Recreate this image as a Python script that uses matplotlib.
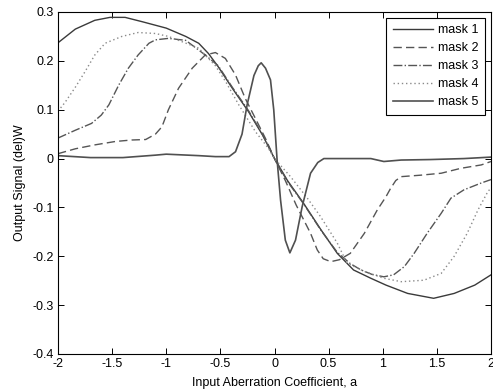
import matplotlib
matplotlib.use("Agg")
import matplotlib.pyplot as plt

# values
m1_x = [-2.0, -1.84, -1.66, -1.52, -1.38, -1.22, -1.0, -0.82, -0.70, -0.61, -0.52, -0.39, -0.24, -0.11,
        0.0, 0.12, 0.27, 0.43, 0.58, 0.73, 0.89, 1.03, 1.23, 1.47, 1.66, 1.85, 2.0]
m1_y = [0.237, 0.265, 0.283, 0.289, 0.289, 0.28, 0.267, 0.25, 0.236, 0.215, 0.188, 0.144, 0.096, 0.048,
        0.0, -0.045, -0.092, -0.146, -0.194, -0.228, -0.245, -0.259, -0.276, -0.286, -0.276, -0.259, -0.238]

m2_x = [-2.0, -1.84, -1.66, -1.47, -1.32, -1.19, -1.10, -1.04, -0.98, -0.886, -0.76, -0.64, -0.546, -0.454,
        -0.36, -0.27, -0.176, -0.083, 0.0, 0.1, 0.2, 0.333, 0.395, 0.45, 0.52, 0.60, 0.70, 0.83, 0.95,
        1.03, 1.07, 1.12, 1.17, 1.35, 1.54, 1.72, 1.91, 2.0]
m2_y = [0.01, 0.02, 0.028, 0.035, 0.038, 0.039, 0.05, 0.065, 0.1, 0.144, 0.185, 0.212, 0.217, 0.205,
        0.171, 0.123, 0.082, 0.041, 0.0, -0.045, -0.095, -0.153, -0.187, -0.205, -0.211, -0.207, -0.194,
        -0.153, -0.105, -0.078, -0.062, -0.045, -0.037, -0.034, -0.03, -0.02, -0.013, -0.006]

m3_x = [-2.0, -1.84, -1.69, -1.60, -1.53, -1.44, -1.35, -1.26, -1.16, -1.10, -0.98, -0.82, -0.64, -0.52,
        -0.39, -0.24, -0.11, 0.0, 0.12, 0.27, 0.43, 0.58, 0.70, 0.80, 0.90, 1.01, 1.10, 1.20, 1.29, 1.41,
        1.54, 1.63, 1.75, 1.91, 2.0]
m3_y = [0.042, 0.058, 0.072, 0.089, 0.11, 0.15, 0.185, 0.212, 0.236, 0.243, 0.246, 0.242, 0.212, 0.19,
        0.146, 0.098, 0.049, 0.0, -0.047, -0.093, -0.147, -0.192, -0.215, -0.228, -0.237, -0.242, -0.238,
        -0.221, -0.194, -0.153, -0.112, -0.081, -0.064, -0.05, -0.043]

m4_x = [-2.0, -1.935, -1.84, -1.75, -1.66, -1.565, -1.41, -1.26, -1.10, -0.98, -0.70, -0.546, -0.45, -0.33,
        -0.176, -0.056, 0.0, 0.148, 0.30, 0.426, 0.58, 0.67, 0.83, 1.01, 1.17, 1.38, 1.54, 1.66, 1.78, 1.88,
        1.97, 2.0]
m4_y = [0.097, 0.115, 0.146, 0.178, 0.212, 0.236, 0.25, 0.258, 0.256, 0.25, 0.226, 0.19, 0.157, 0.11,
        0.055, 0.021, 0.0, -0.037, -0.08, -0.119, -0.173, -0.214, -0.231, -0.245, -0.252, -0.249, -0.235,
        -0.2, -0.153, -0.105, -0.068, -0.06]

m5_x = [-2.0, -1.7, -1.4, -1.1, -1.0, -0.7, -0.546, -0.42, -0.36, -0.30, -0.253, -0.19, -0.15, -0.123,
        -0.083, -0.037, -0.007, 0.024, 0.056, 0.10, 0.142, 0.194, 0.256, 0.333, 0.40, 0.456, 0.58, 0.89,
        1.01, 1.17, 1.44, 1.75, 2.0]
m5_y = [0.006, 0.002, 0.002, 0.007, 0.009, 0.006, 0.004, 0.004, 0.014, 0.05, 0.11, 0.17, 0.19, 0.196,
        0.185, 0.161, 0.1, -0.003, -0.085, -0.167, -0.193, -0.167, -0.098, -0.03, -0.008, 0.0, 0.0, 0.0,
        -0.006, -0.003, -0.002, 0.0, 0.003]

x_ticks = [-2, -1.5, -1, -0.5, 0, 0.5, 1, 1.5, 2]
x_labels = ["-2", "-1.5", "-1", "-0.5", "0", "0.5", "1", "1.5", "2"]
y_ticks = [-0.4, -0.3, -0.2, -0.1, 0, 0.1, 0.2, 0.3]
y_labels = ["-0.4", "-0.3", "-0.2", "-0.1", "0", "0.1", "0.2", "0.3"]

plt.rcParams["font.family"] = ["Liberation Sans", "DejaVu Sans"]
plt.rcParams["font.size"] = 9

fig = plt.figure(figsize=(4.93, 3.92), dpi=100)
ax = fig.add_axes([58 / 493, 1 - 354 / 392, 433 / 493, 342 / 392])

ax.plot(m1_x, m1_y, "-", color="#3a3a3a", lw=1.0, label="mask 1")
ax.plot(m2_x, m2_y, linestyle=(0, (6, 3)), color="#555555", lw=1.0, label="mask 2")
ax.plot(m3_x, m3_y, "-.", color="#555555", lw=1.0, label="mask 3")
ax.plot(m4_x, m4_y, linestyle=(0, (1, 2)), color="#8a8a8a", lw=1.0, label="mask 4")
ax.plot(m5_x, m5_y, "-", color="#505050", lw=1.2, label="mask 5")

ax.set_xlim(-2, 2)
ax.set_ylim(-0.4, 0.3)
ax.set_xticks(x_ticks)
ax.set_xticklabels(x_labels)
ax.set_yticks(y_ticks)
ax.set_yticklabels(y_labels)
ax.tick_params(direction="in", top=True, right=True, length=4, width=0.7, pad=3)
for sp in ax.spines.values():
    sp.set_linewidth(0.8)

ax.set_xlabel("Input Aberration Coefficient, a", labelpad=5)
ax.set_ylabel("Output Signal (del)W", labelpad=5)

leg = ax.legend(loc="upper right", fancybox=False, framealpha=1, edgecolor="black",
                handlelength=3.2, handletextpad=0.4, borderpad=0.55, labelspacing=0.48,
                borderaxespad=0.45, fontsize=9)
leg.get_frame().set_linewidth(0.8)

fig.savefig("out.png", dpi=100)
